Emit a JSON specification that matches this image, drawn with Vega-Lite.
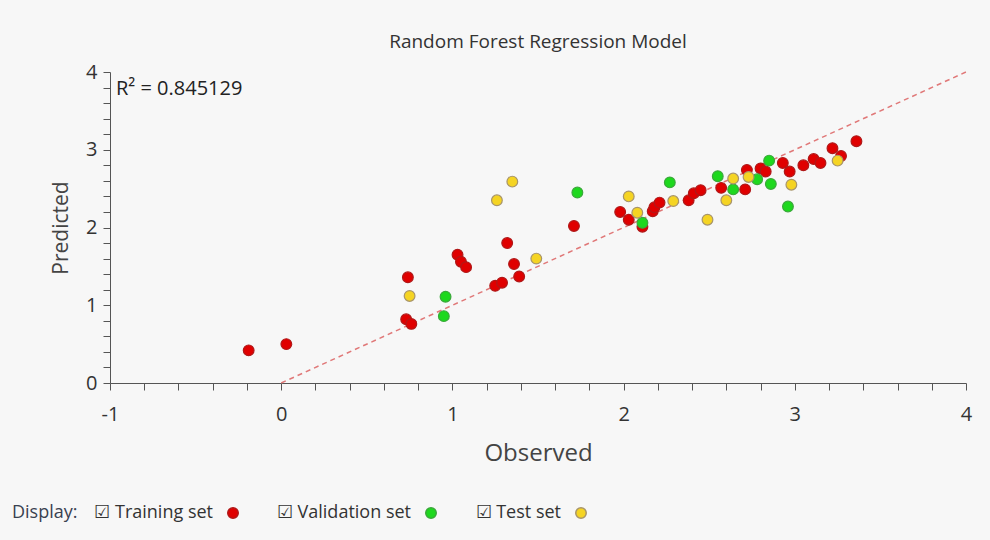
{
  "$schema": "https://vega.github.io/schema/vega-lite/v6.json",
  "autosize": "none",
  "width": 856,
  "height": 311,
  "padding": {"left": 110, "top": 72, "right": 24, "bottom": 157},
  "background": "#f7f7f7",
  "title": {"text": "Random Forest Regression Model", "fontSize": 19, "font": "Open Sans", "fontWeight": "normal", "color": "#333333", "offset": 10, "anchor": "middle"},
  "config": {
    "view": {"stroke": null},
    "font": "Open Sans",
    "axis": {"grid": false, "domainColor": "#555555", "tickColor": "#555555", "tickSize": 7, "labelFontSize": 20, "labelColor": "#333333", "titleFontSize": 24, "titleColor": "#444444", "titleFontWeight": "normal", "labelFont": "Open Sans", "titleFont": "Open Sans", "labelOverlap": false, "labelBound": false, "labelFlush": false}
  },
  "datasets": {
    "points": [
      {"set": "Training set", "o": 1, "observed": -0.19, "predicted": 0.42},
      {"set": "Training set", "o": 1, "observed": 0.03, "predicted": 0.50},
      {"set": "Training set", "o": 1, "observed": 0.74, "predicted": 1.36},
      {"set": "Training set", "o": 1, "observed": 0.73, "predicted": 0.82},
      {"set": "Training set", "o": 1, "observed": 0.76, "predicted": 0.76},
      {"set": "Training set", "o": 1, "observed": 1.03, "predicted": 1.65},
      {"set": "Training set", "o": 1, "observed": 1.05, "predicted": 1.56},
      {"set": "Training set", "o": 1, "observed": 1.08, "predicted": 1.49},
      {"set": "Training set", "o": 1, "observed": 1.25, "predicted": 1.25},
      {"set": "Training set", "o": 1, "observed": 1.29, "predicted": 1.29},
      {"set": "Training set", "o": 1, "observed": 1.32, "predicted": 1.80},
      {"set": "Training set", "o": 1, "observed": 1.36, "predicted": 1.53},
      {"set": "Training set", "o": 1, "observed": 1.39, "predicted": 1.37},
      {"set": "Training set", "o": 1, "observed": 1.71, "predicted": 2.02},
      {"set": "Training set", "o": 1, "observed": 1.98, "predicted": 2.20},
      {"set": "Training set", "o": 1, "observed": 2.03, "predicted": 2.10},
      {"set": "Training set", "o": 1, "observed": 2.11, "predicted": 2.01},
      {"set": "Training set", "o": 1, "observed": 2.17, "predicted": 2.21},
      {"set": "Training set", "o": 1, "observed": 2.18, "predicted": 2.26},
      {"set": "Training set", "o": 1, "observed": 2.21, "predicted": 2.32},
      {"set": "Training set", "o": 1, "observed": 2.38, "predicted": 2.35},
      {"set": "Training set", "o": 1, "observed": 2.41, "predicted": 2.44},
      {"set": "Training set", "o": 1, "observed": 2.45, "predicted": 2.48},
      {"set": "Training set", "o": 1, "observed": 2.57, "predicted": 2.51},
      {"set": "Training set", "o": 1, "observed": 2.71, "predicted": 2.49},
      {"set": "Training set", "o": 1, "observed": 2.72, "predicted": 2.74},
      {"set": "Training set", "o": 1, "observed": 2.80, "predicted": 2.76},
      {"set": "Training set", "o": 1, "observed": 2.83, "predicted": 2.72},
      {"set": "Training set", "o": 1, "observed": 2.93, "predicted": 2.83},
      {"set": "Training set", "o": 1, "observed": 2.97, "predicted": 2.72},
      {"set": "Training set", "o": 1, "observed": 3.05, "predicted": 2.80},
      {"set": "Training set", "o": 1, "observed": 3.11, "predicted": 2.88},
      {"set": "Training set", "o": 1, "observed": 3.15, "predicted": 2.83},
      {"set": "Training set", "o": 1, "observed": 3.22, "predicted": 3.02},
      {"set": "Training set", "o": 1, "observed": 3.27, "predicted": 2.92},
      {"set": "Training set", "o": 1, "observed": 3.36, "predicted": 3.11},
      {"set": "Validation set", "o": 2, "observed": 0.96, "predicted": 1.11},
      {"set": "Validation set", "o": 2, "observed": 0.95, "predicted": 0.86},
      {"set": "Validation set", "o": 2, "observed": 1.73, "predicted": 2.45},
      {"set": "Validation set", "o": 2, "observed": 2.11, "predicted": 2.06},
      {"set": "Validation set", "o": 2, "observed": 2.27, "predicted": 2.58},
      {"set": "Validation set", "o": 2, "observed": 2.55, "predicted": 2.66},
      {"set": "Validation set", "o": 2, "observed": 2.64, "predicted": 2.49},
      {"set": "Validation set", "o": 2, "observed": 2.78, "predicted": 2.62},
      {"set": "Validation set", "o": 2, "observed": 2.85, "predicted": 2.86},
      {"set": "Validation set", "o": 2, "observed": 2.86, "predicted": 2.56},
      {"set": "Validation set", "o": 2, "observed": 2.96, "predicted": 2.27},
      {"set": "Test set", "o": 3, "observed": 0.75, "predicted": 1.12},
      {"set": "Test set", "o": 3, "observed": 1.26, "predicted": 2.35},
      {"set": "Test set", "o": 3, "observed": 1.35, "predicted": 2.59},
      {"set": "Test set", "o": 3, "observed": 1.49, "predicted": 1.60},
      {"set": "Test set", "o": 3, "observed": 2.03, "predicted": 2.40},
      {"set": "Test set", "o": 3, "observed": 2.08, "predicted": 2.19},
      {"set": "Test set", "o": 3, "observed": 2.29, "predicted": 2.34},
      {"set": "Test set", "o": 3, "observed": 2.49, "predicted": 2.10},
      {"set": "Test set", "o": 3, "observed": 2.60, "predicted": 2.35},
      {"set": "Test set", "o": 3, "observed": 2.64, "predicted": 2.63},
      {"set": "Test set", "o": 3, "observed": 2.73, "predicted": 2.65},
      {"set": "Test set", "o": 3, "observed": 2.98, "predicted": 2.55},
      {"set": "Test set", "o": 3, "observed": 3.25, "predicted": 2.86}
    ],
    "diag": [{"observed": 0, "predicted": 0}, {"observed": 4, "predicted": 4}],
    "r2": [{"observed": -1, "predicted": 4, "label": "R² = 0.845129"}]
  },
  "layer": [
    {
      "data": {"name": "diag"},
      "mark": {"type": "line", "color": "#e07878", "strokeDash": [5, 4], "strokeWidth": 1.5},
      "encoding": {
        "x": {"field": "observed", "type": "quantitative"},
        "y": {"field": "predicted", "type": "quantitative"}
      }
    },
    {
      "data": {"name": "points"},
      "mark": {"type": "circle", "size": 115, "strokeWidth": 1.2, "opacity": 1},
      "encoding": {
        "x": {
          "field": "observed", "type": "quantitative",
          "scale": {"domain": [-1, 4], "nice": false, "zero": false},
          "axis": {
            "title": "Observed",
            "tickCount": 40,
            "values": [-1, -0.8, -0.6, -0.4, -0.2, 0, 0.2, 0.4, 0.6, 0.8, 1, 1.2, 1.4, 1.6, 1.8, 2, 2.2, 2.4, 2.6, 2.8, 3, 3.2, 3.4, 3.6, 3.8, 4],
            "labelExpr": "abs(datum.value - round(datum.value)) < 0.001 ? '' + round(datum.value) : ''",
            "labelPadding": 14,
            "titlePadding": 17
          }
        },
        "y": {
          "field": "predicted", "type": "quantitative",
          "scale": {"domain": [0, 4], "nice": false, "zero": false},
          "axis": {
            "title": "Predicted",
            "titleFontSize": 21,
            "tickCount": 40,
            "values": [0, 0.2, 0.4, 0.6, 0.8, 1, 1.2, 1.4, 1.6, 1.8, 2, 2.2, 2.4, 2.6, 2.8, 3, 3.2, 3.4, 3.6, 3.8, 4],
            "labelExpr": "abs(datum.value - round(datum.value)) < 0.001 ? '' + round(datum.value) : ''",
            "labelPadding": 6,
            "titlePadding": 14
          }
        },
        "fill": {
          "field": "set", "type": "nominal",
          "scale": {"domain": ["Training set", "Validation set", "Test set"], "range": ["#e00000", "#1ed81e", "#f5d423"]},
          "legend": {
            "title": "Display:",
            "titleOrient": "left",
            "titleFontSize": 18,
            "titleFontWeight": "normal",
            "titleColor": "#3a4150",
            "titlePadding": 146,
            "orient": "none",
            "legendX": -98,
            "legendY": 432,
            "direction": "horizontal",
            "labelFontSize": 18,
            "labelColor": "#333333",
            "labelExpr": "'☑  ' + datum.label",
            "labelAlign": "right",
            "labelOffset": -29,
            "symbolType": "circle",
            "symbolSize": 110,
            "columnPadding": 30
          }
        },
        "stroke": {
          "field": "set", "type": "nominal",
          "scale": {"domain": ["Training set", "Validation set", "Test set"], "range": ["#b01818", "#3aa83a", "#a8956a"]},
          "legend": null
        },
        "order": {"field": "o", "type": "quantitative"}
      }
    },
    {
      "data": {"name": "r2"},
      "mark": {"type": "text", "align": "left", "baseline": "middle", "dx": 6, "dy": 17, "fontSize": 20, "color": "#222222", "font": "Open Sans"},
      "encoding": {
        "x": {"field": "observed", "type": "quantitative"},
        "y": {"field": "predicted", "type": "quantitative"},
        "text": {"field": "label"}
      }
    }
  ]
}
